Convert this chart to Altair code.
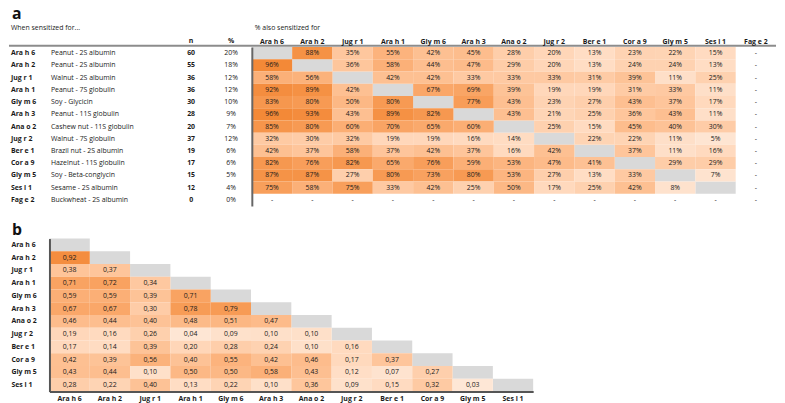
import altair as alt
import pandas as pd

FONT = "Open Sans"
TXT = "#1a1a1a"
GRAY = "#d9d9d9"
C_LO = "#feeadb"
C_HI = "#f28530"

# ---------------- data ----------------
allergens = ["Ara h 6", "Ara h 2", "Jug r 1", "Ara h 1", "Gly m 6", "Ara h 3", "Ana o 2",
             "Jug r 2", "Ber e 1", "Cor a 9", "Gly m 5", "Ses i 1", "Fag e 2"]
descriptions = ["Peanut - 2S albumin", "Peanut - 2S albumin", "Walnut - 2S albumin",
                "Peanut - 7S globulin", "Soy - Glycicin", "Peanut - 11S globulin",
                "Cashew nut - 11S globulin", "Walnut - 7S globulin", "Brazil nut - 2S albumin",
                "Hazelnut - 11S globulin", "Soy - Beta-conglycin", "Sesame - 2S albumin",
                "Buckwheat - 2S albumin"]
n_sensitized = [60, 55, 36, 36, 30, 28, 20, 37, 19, 17, 15, 12, 0]
pct_sensitized = [20, 18, 12, 12, 10, 9, 7, 12, 6, 6, 5, 4, 0]

# % also sensitized for (rows: when sensitized for; cols: also sensitized for), Fag e 2 excluded
also_pct = [
    [None, 88, 35, 55, 42, 45, 28, 20, 13, 23, 22, 15],
    [96, None, 36, 58, 44, 47, 29, 20, 13, 24, 24, 13],
    [58, 56, None, 42, 42, 33, 33, 33, 31, 39, 11, 25],
    [92, 89, 42, None, 67, 69, 39, 19, 19, 31, 33, 11],
    [83, 80, 50, 80, None, 77, 43, 23, 27, 43, 37, 17],
    [96, 93, 43, 89, 82, None, 43, 21, 25, 36, 43, 11],
    [85, 80, 60, 70, 65, 60, None, 25, 15, 45, 40, 30],
    [32, 30, 32, 19, 19, 16, 14, None, 22, 22, 11, 5],
    [42, 37, 58, 37, 42, 37, 16, 42, None, 37, 11, 16],
    [82, 76, 82, 65, 76, 59, 53, 47, 41, None, 29, 29],
    [87, 87, 27, 80, 73, 80, 53, 27, 13, 33, None, 7],
    [75, 58, 75, 33, 42, 25, 50, 17, 25, 42, 8, None],
]

# correlation matrix, lower triangle (row i has i values)
corr_rows = allergens[:12]
corr_lower = [
    [],
    [0.92],
    [0.38, 0.37],
    [0.71, 0.72, 0.34],
    [0.59, 0.59, 0.39, 0.71],
    [0.67, 0.67, 0.30, 0.78, 0.79],
    [0.46, 0.44, 0.40, 0.48, 0.51, 0.47],
    [0.19, 0.16, 0.26, 0.04, 0.09, 0.10, 0.10],
    [0.17, 0.14, 0.39, 0.20, 0.28, 0.24, 0.10, 0.16],
    [0.42, 0.39, 0.56, 0.40, 0.55, 0.42, 0.46, 0.17, 0.37],
    [0.43, 0.44, 0.10, 0.50, 0.50, 0.58, 0.43, 0.12, 0.07, 0.27],
    [0.28, 0.22, 0.40, 0.13, 0.22, 0.10, 0.36, 0.09, 0.15, 0.32, 0.03],
]

# ---------------- tables ----------------
cells_a, diag_a = [], []
for i, r in enumerate(allergens[:12]):
    for j, c in enumerate(allergens[:12]):
        v = also_pct[i][j]
        if v is None:
            diag_a.append({"row": r, "col": c})
        else:
            cells_a.append({"row": r, "col": c, "value": v, "label": f"{v}%"})
dash_a = [{"row": "Fag e 2", "col": c, "label": "-"} for c in allergens] + \
         [{"row": r, "col": "Fag e 2", "label": "-"} for r in allergens[:12]]
cells_a = pd.DataFrame(cells_a)
diag_a = pd.DataFrame(diag_a)
dash_a = pd.DataFrame(dash_a)
left_a = pd.DataFrame({"row": allergens, "desc": descriptions, "n": n_sensitized,
                       "pct": [f"{p}%" for p in pct_sensitized]})

cells_b, diag_b = [], []
for i, r in enumerate(corr_rows):
    for j, v in enumerate(corr_lower[i]):
        cells_b.append({"row": r, "col": corr_rows[j], "value": v,
                        "label": f"{v:.2f}".replace(".", ",")})
    diag_b.append({"row": r, "col": r})
cells_b = pd.DataFrame(cells_b)
diag_b = pd.DataFrame(diag_b)

one = pd.DataFrame({"t": [""]})

# ---------------- layout numbers ----------------
COLW = 40.86
LEFT_W = 205          # width of the text part of table a (plot origin at page x=47)
L0 = -39              # left page edge relative to plot origin
W_A = round(COLW * 13)
H_A = 161

# ---------------- panel a : text columns ----------------
y_rows_a = alt.Y("row:N", scale=alt.Scale(domain=allergens, paddingInner=0, paddingOuter=0), axis=None)

code_l = alt.Chart(left_a).mark_text(fontSize=7, fontWeight="bold", align="left", color=TXT).encode(
    x=alt.value(L0), y=y_rows_a, text="row:N")
desc_l = alt.Chart(left_a).mark_text(fontSize=7, align="left", color=TXT).encode(
    x=alt.value(1.5), y=y_rows_a, text="desc:N")
n_l = alt.Chart(left_a).mark_text(fontSize=7, fontWeight="bold", color=TXT).encode(
    x=alt.value(143.5), y=y_rows_a, text="n:Q")
p_l = alt.Chart(left_a).mark_text(fontSize=7, color=TXT).encode(
    x=alt.value(184), y=y_rows_a, text="pct:N")
hdr_n = alt.Chart(one).mark_text(text="n", fontSize=7, fontWeight="bold", color=TXT, baseline="middle").encode(
    x=alt.value(143.5), y=alt.value(-6.3))
hdr_p = alt.Chart(one).mark_text(text="%", fontSize=7, fontWeight="bold", color=TXT, baseline="middle").encode(
    x=alt.value(184), y=alt.value(-6.3))
sub_l = alt.Chart(one).mark_text(text="When sensitized for...", fontSize=7, align="left", color=TXT,
                                 baseline="middle").encode(x=alt.value(L0), y=alt.value(-19))
tag_a = alt.Chart(one).mark_text(text="a", fontSize=16, fontWeight="bold", align="left", color="#111",
                                 baseline="alphabetic").encode(x=alt.value(L0 + 1), y=alt.value(-28))
hline = alt.Chart(one).mark_rule(color="#8c8c8c", strokeWidth=2).encode(
    x=alt.value(L0 - 2), x2=alt.value(LEFT_W + W_A), y=alt.value(-1.3))

left_chart = alt.layer(code_l, desc_l, n_l, p_l, hdr_n, hdr_p, sub_l, tag_a, hline).properties(
    width=LEFT_W, height=H_A)

# ---------------- panel a : heatmap ----------------
xa = alt.X("col:N", scale=alt.Scale(domain=allergens, paddingInner=0, paddingOuter=0),
           axis=alt.Axis(orient="top", title=None, labelAngle=0, labelFontWeight="bold",
                         labelFontSize=7, labelFont=FONT, labelColor=TXT, ticks=False,
                         domain=False, labelPadding=3))
ya = alt.Y("row:N", scale=alt.Scale(domain=allergens, paddingInner=0, paddingOuter=0),
           axis=alt.Axis(title=None, labels=False, ticks=False, domain=True,
                         domainColor="#666666", domainWidth=2))
col_a = alt.Color("value:Q", scale=alt.Scale(domain=[0, 100], range=[C_LO, C_HI]), legend=None)

gray_a = alt.Chart(diag_a).mark_rect(color=GRAY).encode(x=xa, y=ya)
rect_a = alt.Chart(cells_a).mark_rect().encode(x=xa, y=ya, color=col_a)
lab_a = alt.Chart(cells_a).mark_text(fontSize=7, color=TXT).encode(x=xa, y=ya, text="label:N")
dash_l = alt.Chart(dash_a).mark_text(fontSize=7, color=TXT).encode(x=xa, y=ya, text="label:N")
sub_r = alt.Chart(one).mark_text(text="% also sensitized for", fontSize=7, align="left", color=TXT,
                                 baseline="middle").encode(x=alt.value(3), y=alt.value(-19))

heat_a = alt.layer(gray_a, rect_a, lab_a, dash_l, sub_r).properties(width=W_A, height=H_A)

panel_a = alt.hconcat(left_chart, heat_a, spacing=0, bounds="flush")

# ---------------- panel b ----------------
W_B = round(COLW * 12)
H_B = 155
xb = alt.X("col:N", scale=alt.Scale(domain=corr_rows, paddingInner=0, paddingOuter=0),
           axis=alt.Axis(orient="bottom", title=None, labelAngle=0, labelFontWeight="bold",
                         labelFontSize=7, labelFont=FONT, labelColor=TXT, ticks=False,
                         domain=True, domainColor="#555555", domainWidth=2, labelPadding=3))
yb = alt.Y("row:N", scale=alt.Scale(domain=corr_rows, paddingInner=0, paddingOuter=0),
           axis=alt.Axis(title=None, labelAlign="left", labelPadding=39, labelFontWeight="bold",
                         labelFontSize=7, labelFont=FONT, labelColor=TXT, ticks=False,
                         domain=True, domainColor="#555555", domainWidth=2))
col_b = alt.Color("value:Q", scale=alt.Scale(domain=[0, 1], range=[C_LO, C_HI]), legend=None)

gray_b = alt.Chart(diag_b).mark_rect(color=GRAY).encode(x=xb, y=yb)
rect_b = alt.Chart(cells_b).mark_rect().encode(x=xb, y=yb, color=col_b)
lab_b = alt.Chart(cells_b).mark_text(fontSize=7, color=TXT).encode(x=xb, y=yb, text="label:N")
tag_b = alt.Chart(one).mark_text(text="b", fontSize=16, fontWeight="bold", align="left", color="#111",
                                 baseline="alphabetic").encode(x=alt.value(L0 + 1), y=alt.value(-4))

chart_b = alt.layer(gray_b, rect_b, lab_b, tag_b).properties(width=W_B, height=H_B)

chart = alt.vconcat(panel_a, chart_b, spacing=16).resolve_scale(color="independent").properties(
    padding={"top": -4, "left": 0, "right": 0, "bottom": 0}
).configure_view(stroke=None).configure_text(font=FONT).configure_axis(labelFont=FONT)

chart.save("out.html", embed_options={"renderer": "svg", "actions": False})
